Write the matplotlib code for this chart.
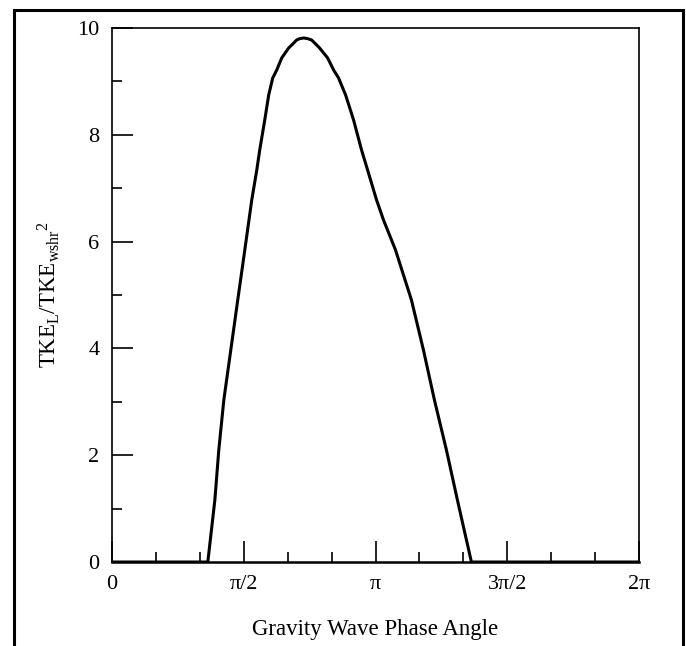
import numpy as np
import matplotlib.pyplot as plt
from matplotlib.patches import Rectangle
from matplotlib.ticker import MultipleLocator, FixedLocator

plt.rcParams['font.family'] = ['Liberation Serif', 'DejaVu Serif']
plt.rcParams['mathtext.fontset'] = 'custom'
plt.rcParams['mathtext.rm'] = 'Liberation Serif'
plt.rcParams['mathtext.it'] = 'Liberation Serif:italic'

# phase angle (rad) and TKE ratio
phase = [0.0, 1.142, 1.226, 1.273, 1.333, 1.416, 1.499, 1.583, 1.666, 1.726,
         1.761, 1.821, 1.868, 1.916, 1.964, 2.023, 2.106, 2.202, 2.237, 2.285,
         2.333, 2.380, 2.475, 2.571, 2.642, 2.701, 2.785, 2.880, 2.975, 3.047,
         3.154, 3.237, 3.380, 3.570, 3.713, 3.844, 3.987, 4.118, 4.285, 2 * np.pi]
tke = [0.0, 0.0, 1.161, 2.097, 3.034, 3.970, 4.906, 5.843, 6.779, 7.341,
       7.715, 8.277, 8.745, 9.064, 9.213, 9.438, 9.625, 9.775, 9.800, 9.813,
       9.800, 9.775, 9.625, 9.438, 9.213, 9.064, 8.745, 8.277, 7.715, 7.341,
       6.779, 6.404, 5.843, 4.906, 3.970, 3.034, 2.097, 1.161, 0.0, 0.0]

xticks = [0, np.pi / 2, np.pi, 3 * np.pi / 2, 2 * np.pi]
xlabels = ['0', 'π/2', 'π', '3π/2', '2π']

fig = plt.figure(figsize=(6.86, 6.46), dpi=100)
ax = fig.add_axes([0.1633, 0.130, 0.7682, 0.8267])

ax.plot(phase, tke, color='black', lw=2.2, solid_joinstyle='round')

ax.set_xlim(0, 2 * np.pi)
ax.set_ylim(0, 10)
ax.set_xticks(xticks)
ax.set_xticklabels(xlabels)
ax.xaxis.set_minor_locator(FixedLocator(np.arange(0, 13) * np.pi / 6))
ax.yaxis.set_major_locator(MultipleLocator(2))
ax.yaxis.set_minor_locator(MultipleLocator(1))

ax.tick_params(which='both', direction='in', top=False, right=False,
               width=1.2, labelsize=16, color='black')
ax.tick_params(which='major', length=15)
ax.tick_params(which='minor', length=7.5)
ax.tick_params(axis='x', which='major', pad=9)
ax.tick_params(axis='y', which='major', pad=9)

for s in ax.spines.values():
    s.set_linewidth(1.2)
ax.spines['bottom'].set_linewidth(1.8)

ax.set_xlabel('Gravity Wave Phase Angle', fontsize=16.5, labelpad=18)
ax.set_ylabel(r'TKE$_{\mathrm{L}}$/TKE$_{\mathrm{wshr}}$$^{2}$', fontsize=16.5, labelpad=11)

# outer frame around the figure
fig.patches.append(Rectangle((0.0204, -0.02), 0.9752, 1.0045, transform=fig.transFigure,
                             fill=False, lw=2.2, edgecolor='black', clip_on=False))

fig.savefig('out.png', dpi=100)
